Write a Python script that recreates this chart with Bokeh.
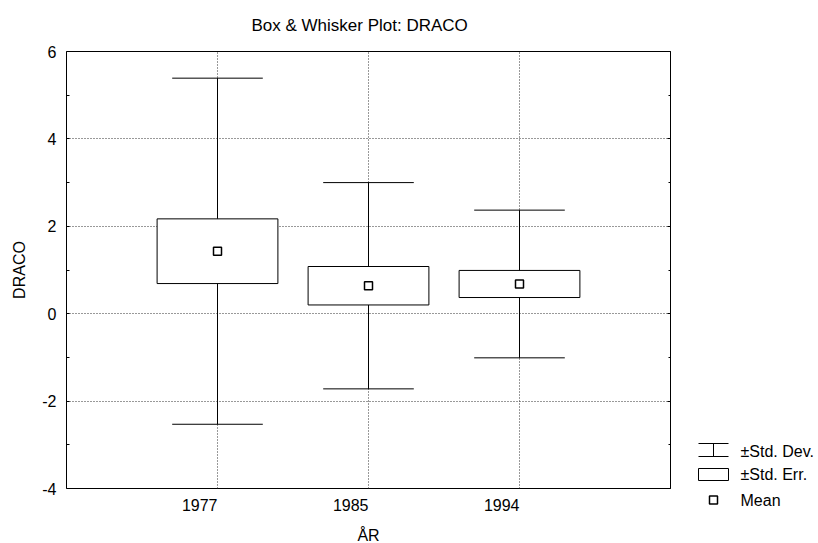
from bokeh.plotting import figure
from bokeh.models import (ColumnDataSource, FactorRange, Range1d,
                          SingleIntervalTicker, LinearAxis, CustomJSTickFormatter)
from bokeh.transform import dodge
from bokeh.layouts import row
from bokeh.embed import file_html
from bokeh.resources import INLINE
from bokeh.core.properties import value

# ---- data ----
years = ["1977", "1985", "1994"]
means = [1.43, 0.64, 0.68]
std_err = [0.74, 0.44, 0.31]
std_dev = [3.96, 2.36, 1.69]

y_ticks = [-4, -2, 0, 2, 4, 6]
y_tick_labels = ["-4", "-2", "0", "2", "4", "6"]

title_text = "Box & Whisker Plot: DRACO"
x_label = "ÅR"
y_label = "DRACO"
legend_labels = ["±Std. Dev.", "±Std. Err.", "Mean"]

FONT = "Liberation Sans"

src = ColumnDataSource(dict(
    x=years,
    mean=means,
    se_lo=[m - s for m, s in zip(means, std_err)],
    se_hi=[m + s for m, s in zip(means, std_err)],
    sd_lo=[m - s for m, s in zip(means, std_dev)],
    sd_hi=[m + s for m, s in zip(means, std_dev)],
))

p = figure(
    x_range=FactorRange(factors=years, range_padding=0.5, range_padding_units="absolute"),
    y_range=Range1d(y_ticks[0], y_ticks[-1]),
    frame_width=604, frame_height=437,
    min_border_left=66, min_border_right=20, min_border_top=51, min_border_bottom=55,
    toolbar_location=None, output_backend="svg",
    title=title_text,
)
p.frame_align = False
p.background_fill_color = "white"
p.border_fill_color = "white"
p.outline_line_color = "black"
p.outline_line_width = 1

p.title.align = "left"
p.title.offset = 185
p.title.vertical_align = "top"
p.title.standoff = 29
p.title.text_font = FONT
p.title.text_font_size = "17px"
p.title.text_font_style = "normal"
p.title.text_color = "black"

# axes
p.yaxis.ticker = SingleIntervalTicker(interval=2, num_minor_ticks=2)
p.yaxis.major_label_overrides = dict(zip(y_ticks, y_tick_labels))
for ax in (p.xaxis[0], p.yaxis[0]):
    ax.axis_line_color = None
    ax.major_tick_in = 0
    ax.major_tick_out = 0
    ax.minor_tick_out = 0
    ax.major_label_text_font = FONT
    ax.major_label_text_font_size = "16px"
    ax.major_label_text_color = "black"
    ax.axis_label_text_font = FONT
    ax.axis_label_text_font_size = "16px"
    ax.axis_label_text_font_style = "normal"
    ax.axis_label_text_color = "black"
p.yaxis.minor_tick_in = 3
p.yaxis.minor_tick_line_color = "black"
p.yaxis.major_label_standoff = 10
p.yaxis.axis_label = y_label
p.yaxis.axis_label_standoff = 11
p.xaxis.axis_label = x_label
p.xaxis.major_label_standoff = 16
p.xaxis.axis_label_standoff = 7
p.xaxis.major_label_orientation = 0

right_ax = LinearAxis(ticker=SingleIntervalTicker(interval=2, num_minor_ticks=2),
                      formatter=CustomJSTickFormatter(code="return ''"))
right_ax.axis_line_color = None
right_ax.major_tick_in = 3
right_ax.major_tick_out = 0
right_ax.minor_tick_in = 2
right_ax.minor_tick_out = 0
right_ax.major_label_standoff = 0
p.add_layout(right_ax, "right")

# grid
for g in (p.xgrid[0], p.ygrid[0]):
    g.grid_line_color = "#333333"
    g.grid_line_dash = "1 2"
    g.grid_line_width = 1

# whiskers (±SD)
p.segment(x0="x", y0="sd_lo", x1="x", y1="sd_hi", source=src, line_color="black", line_width=1)
p.segment(x0=dodge("x", -0.3, range=p.x_range), y0="sd_hi",
          x1=dodge("x", 0.3, range=p.x_range), y1="sd_hi",
          source=src, line_color="black", line_width=1)
p.segment(x0=dodge("x", -0.3, range=p.x_range), y0="sd_lo",
          x1=dodge("x", 0.3, range=p.x_range), y1="sd_lo",
          source=src, line_color="black", line_width=1)
# boxes (±SE)
p.vbar(x="x", width=0.8, bottom="se_lo", top="se_hi", source=src,
       fill_color="white", line_color="black", line_width=1)
# means
p.scatter(x="x", y="mean", source=src, marker="square", size=8,
          fill_color="white", line_color="black", line_width=1.5)

# ---- legend panel (pixel coordinates of its own canvas) ----
lg = figure(width=128, height=543, x_range=Range1d(0, 128), y_range=Range1d(543, 0),
            toolbar_location=None, output_backend="svg",
            x_axis_location=None, y_axis_location=None)
lg.frame_align = False
lg.min_border_left = lg.min_border_right = lg.min_border_top = lg.min_border_bottom = 0
lg.outline_line_color = None
lg.background_fill_color = "white"
lg.border_fill_color = "white"
lg.grid.visible = False

row_y = [449.5, 474.0, 499.5]
text_y = [451.0, 474.0, 499.5]
gx0, gx1, gxc = 8, 38, 23

lg.segment(x0=[gx0, gx0, gxc], x1=[gx1, gx1, gxc],
           y0=[row_y[0] - 6.5, row_y[0] + 6.5, row_y[0] - 6.5],
           y1=[row_y[0] - 6.5, row_y[0] + 6.5, row_y[0] + 6.5],
           line_color="black", line_width=1)
lg.quad(left=[gx0], right=[gx1], top=[row_y[1] - 6], bottom=[row_y[1] + 6],
        fill_color="white", line_color="black", line_width=1)
lg.scatter(x=[gxc], y=[row_y[2]], marker="square", size=8,
           fill_color="white", line_color="black", line_width=1.5)
lg.text(x=[50, 50, 50], y=text_y, text=legend_labels,
        text_font=value(FONT), text_font_size="16px", text_color="black",
        text_baseline="middle", text_align="left")

layout = row(p, lg)
open("out.html", "w").write(file_html(layout, INLINE))
